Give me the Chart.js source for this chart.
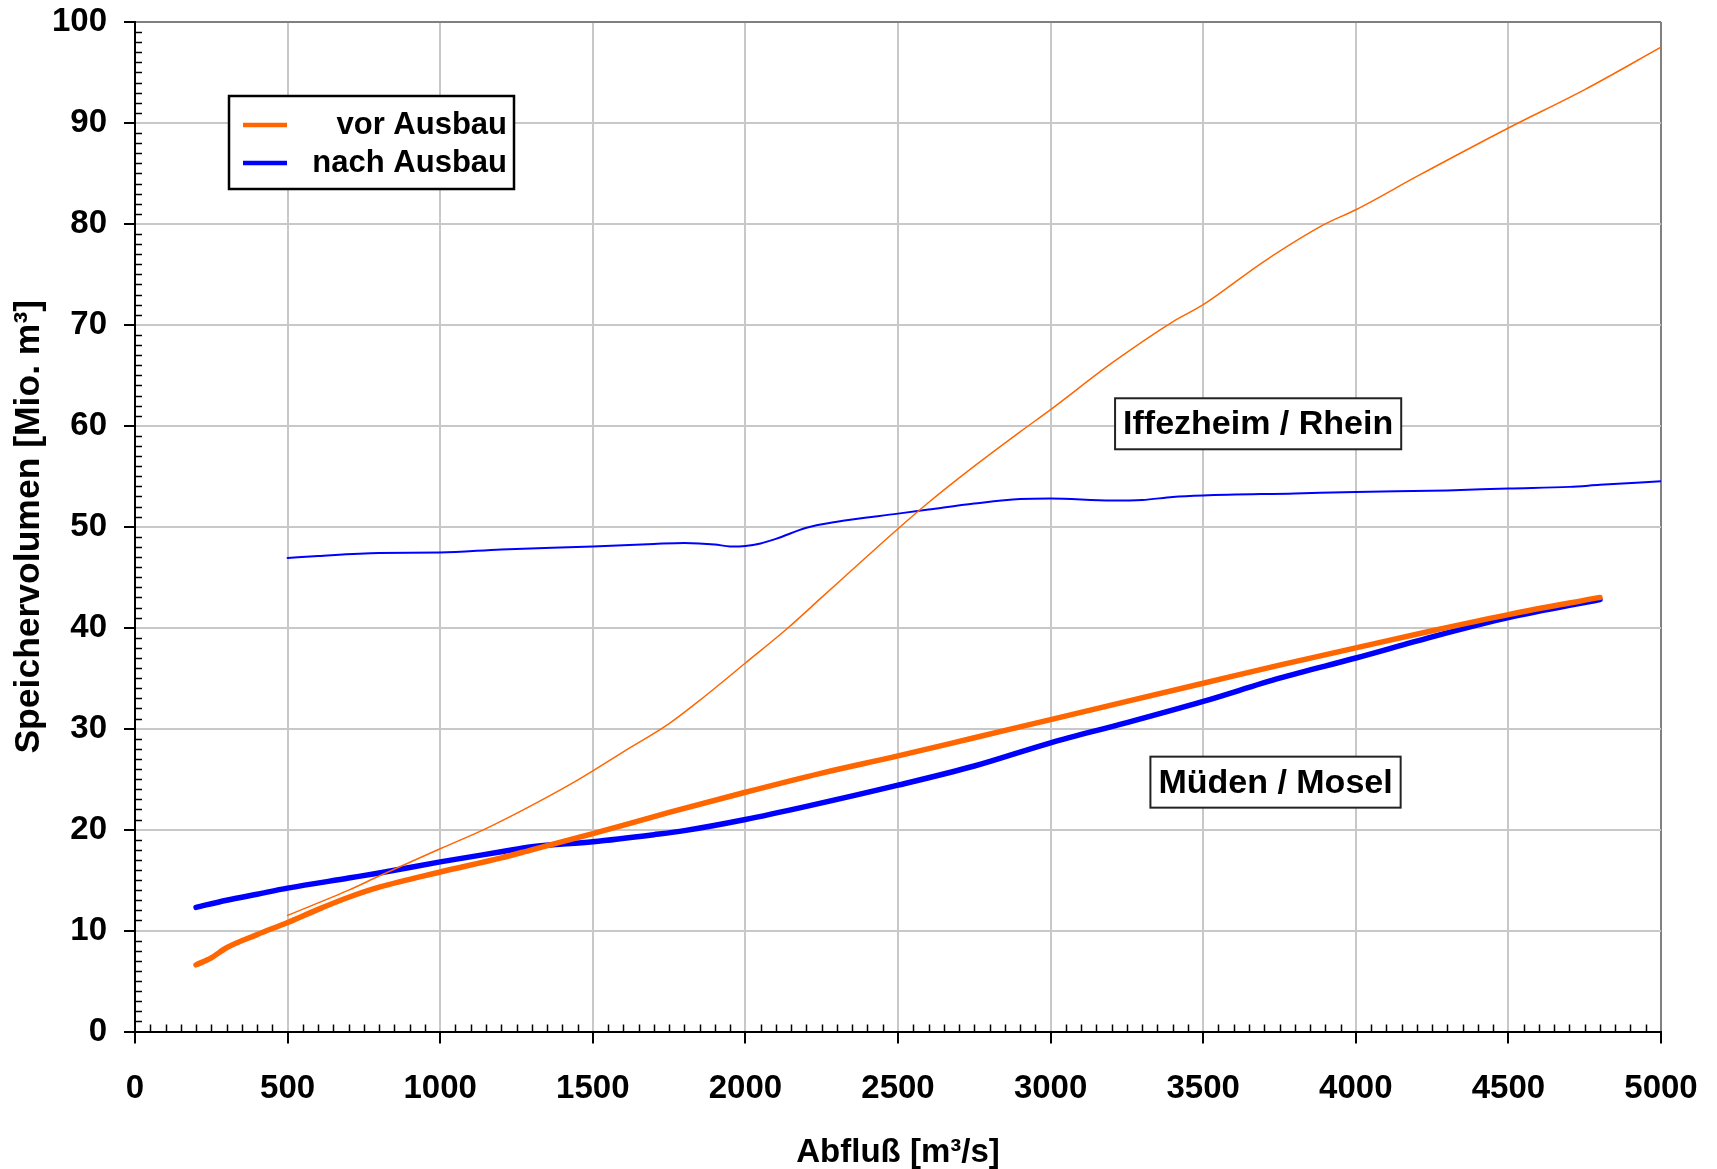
<!DOCTYPE html>
<html>
<head>
<meta charset="utf-8">
<script src="https://cdn.jsdelivr.net/npm/chart.js@4.4.1/dist/chart.umd.min.js"></script>
<style>
  html, body { margin: 0; padding: 0; background: #ffffff; }
  #wrap { width: 1717px; height: 1169px; }
</style>
</head>
<body>
<div id="wrap"><canvas id="c" width="1717" height="1169"></canvas></div>
<script>
// ---------- data ----------
const xTitle = 'Abfluß [m³/s]';
const yTitle = 'Speichervolumen [Mio. m³]';
const legendLabels = ['vor Ausbau', 'nach Ausbau'];

// Müden / Mosel, vor Ausbau (thick orange)
const muedenVorX = [200, 250, 300, 400, 500, 600, 700, 800, 1000, 1200, 1300, 1500, 1750, 2000, 2250, 2500, 2750, 3000, 3250, 3500, 3750, 4000, 4250, 4500, 4800];
const muedenVorY = [6.6, 7.3, 8.3, 9.6, 10.8, 12.1, 13.3, 14.3, 15.8, 17.2, 18.0, 19.6, 21.7, 23.7, 25.6, 27.3, 29.1, 30.9, 32.7, 34.5, 36.3, 38.0, 39.7, 41.3, 43.0];

// Müden / Mosel, nach Ausbau (thick blue)
const muedenNachX = [200, 300, 400, 500, 700, 800, 1000, 1200, 1300, 1500, 1700, 1800, 2000, 2200, 2500, 2750, 3000, 3250, 3500, 3750, 4000, 4250, 4500, 4800];
const muedenNachY = [12.3, 13.0, 13.6, 14.2, 15.2, 15.7, 16.8, 17.8, 18.3, 18.8, 19.5, 19.9, 21.0, 22.3, 24.4, 26.3, 28.6, 30.6, 32.7, 35.0, 37.0, 39.1, 41.0, 42.8];

// Iffezheim / Rhein, vor Ausbau (thin orange)
const iffVorX = [500, 700, 800, 1000, 1150, 1300, 1450, 1600, 1750, 1850, 2000, 2140, 2250, 2400, 2500, 2600, 2750, 2900, 3000, 3200, 3400, 3500, 3700, 3900, 4000, 4200, 4500, 4750, 5000];
const iffVorY = [11.5, 14.0, 15.4, 18.1, 20.1, 22.4, 24.9, 27.7, 30.5, 32.8, 36.5, 40.0, 43.0, 47.1, 49.8, 52.4, 56.0, 59.4, 61.6, 66.2, 70.3, 72.0, 76.3, 80.0, 81.4, 84.7, 89.5, 93.3, 97.5];

// Iffezheim / Rhein, nach Ausbau (thin blue)
const iffNachX = [500, 600, 800, 1000, 1200, 1500, 1700, 1800, 1900, 1950, 2000, 2050, 2100, 2200, 2300, 2500, 2600, 2750, 2900, 3000, 3200, 3300, 3400, 3500, 3800, 4000, 4300, 4500, 4700, 4800, 5000];
const iffNachY = [46.9, 47.1, 47.4, 47.45, 47.75, 48.05, 48.3, 48.4, 48.25, 48.05, 48.1, 48.35, 48.8, 49.9, 50.5, 51.3, 51.7, 52.3, 52.75, 52.8, 52.6, 52.65, 52.95, 53.1, 53.3, 53.45, 53.6, 53.8, 53.95, 54.15, 54.5];

// station labels: text and anchor in data coordinates
const stationLabels = ['Iffezheim / Rhein', 'Müden / Mosel'];
const stationLabelX = [3680, 3737];
const stationLabelY = [60.2, 24.7];

// ---------- styling ----------
const ORANGE = '#FF6600';
const BLUE = '#0000FF';
const FONT = "'Liberation Sans', Arial, sans-serif";

function pts(xs, ys) { return xs.map((x, i) => ({ x: x, y: ys[i] })); }

const datasets = [
  { label: 'Iffezheim vor Ausbau', data: pts(iffVorX, iffVorY), borderColor: ORANGE, borderWidth: 1.5 },
  { label: 'Iffezheim nach Ausbau', data: pts(iffNachX, iffNachY), borderColor: BLUE, borderWidth: 2 },
  { label: 'Müden vor Ausbau', data: pts(muedenVorX, muedenVorY), borderColor: ORANGE, borderWidth: 5.5 },
  { label: 'Müden nach Ausbau', data: pts(muedenNachX, muedenNachY), borderColor: BLUE, borderWidth: 5.5 }
].map(d => Object.assign(d, {
  showLine: true, pointRadius: 0, pointHoverRadius: 0, fill: false,
  cubicInterpolationMode: 'monotone', borderCapStyle: 'round', borderJoinStyle: 'round'
}));

// minor ticks + legend + station labels
const extras = {
  id: 'extras',
  afterDraw(chart) {
    const ctx = chart.ctx;
    const xs = chart.scales.x, ys = chart.scales.y;
    const ca = chart.chartArea;
    ctx.save();
    // minor ticks
    ctx.strokeStyle = '#000';
    ctx.lineWidth = 1.5;
    ctx.beginPath();
    for (let v = 1; v < 100; v++) {
      if (v % 10 === 0) continue;
      const py = Math.round(ys.getPixelForValue(v)) + 0.5;
      ctx.moveTo(ca.left, py); ctx.lineTo(ca.left + 7, py);
    }
    for (let v = 50; v < 5000; v += 50) {
      if (v % 500 === 0) continue;
      const px = Math.round(xs.getPixelForValue(v)) + 0.5;
      ctx.moveTo(px, ca.bottom); ctx.lineTo(px, ca.bottom - 7);
    }
    ctx.stroke();

    // legend box
    const lx = 229, ly = 96, lw = 285, lh = 93;
    ctx.fillStyle = '#fff';
    ctx.fillRect(lx, ly, lw, lh);
    ctx.lineWidth = 2.5;
    ctx.strokeStyle = '#000';
    ctx.strokeRect(lx, ly, lw, lh);
    const rows = [{ c: ORANGE, y: 125 }, { c: BLUE, y: 163 }];
    ctx.font = 'bold 31px ' + FONT;
    ctx.textAlign = 'right';
    ctx.textBaseline = 'middle';
    rows.forEach((r, i) => {
      ctx.strokeStyle = r.c;
      ctx.lineWidth = 4.5;
      ctx.beginPath();
      ctx.moveTo(243, r.y); ctx.lineTo(287, r.y);
      ctx.stroke();
      ctx.fillStyle = '#000';
      ctx.fillText(legendLabels[i], 507, r.y);
    });

    // station labels
    ctx.font = 'bold 34px ' + FONT;
    ctx.textAlign = 'center';
    stationLabels.forEach((t, i) => {
      const cx = xs.getPixelForValue(stationLabelX[i]);
      const cy = ys.getPixelForValue(stationLabelY[i]);
      const w = ctx.measureText(t).width + 16;
      const h = 51;
      ctx.fillStyle = '#fff';
      ctx.fillRect(cx - w / 2, cy - h / 2, w, h);
      ctx.strokeStyle = '#222';
      ctx.lineWidth = 2;
      ctx.strokeRect(cx - w / 2, cy - h / 2, w, h);
      ctx.fillStyle = '#000';
      ctx.fillText(t, cx, cy + 1);
    });
    ctx.restore();
  }
};

new Chart(document.getElementById('c'), {
  type: 'scatter',
  data: { datasets: datasets },
  options: {
    responsive: false,
    animation: false,
    events: [],
    layout: { padding: { top: 22, right: 56, left: 0, bottom: 0 } },
    plugins: { legend: { display: false }, tooltip: { enabled: false } },
    scales: {
      x: {
        type: 'linear', min: 0, max: 5000,
        ticks: { stepSize: 500, color: '#000', font: { family: FONT, size: 33, weight: 'bold' }, padding: 26, maxRotation: 0, autoSkip: false,
                 callback: v => String(v) },
        grid: {
          color: c => (c.tick && c.tick.value === 5000) ? '#808080' : '#c8c8c8',
          lineWidth: 2, tickLength: 12, tickColor: '#000', tickWidth: 2
        },
        border: { color: '#000', width: 2 },
        title: { display: true, text: xTitle, color: '#000', font: { family: FONT, size: 33, weight: 'bold', lineHeight: 0.95 }, padding: { top: 0, bottom: 0 } },
        afterFit(s) { s.height = 137.5; s.paddingLeft = 0; s.paddingRight = 0; }
      },
      y: {
        type: 'linear', min: 0, max: 100,
        ticks: { stepSize: 10, color: '#000', font: { family: FONT, size: 33, weight: 'bold' }, padding: 17, autoSkip: false,
                 callback: v => String(v) },
        grid: {
          color: c => (c.tick && c.tick.value === 100) ? '#808080' : '#c8c8c8',
          lineWidth: 2, tickLength: 11, tickColor: '#000', tickWidth: 2
        },
        border: { color: '#000', width: 2 },
        title: { display: true, text: yTitle, color: '#000', font: { family: FONT, size: 35.5, weight: 'bold' }, padding: { top: 8, bottom: 0 } },
        afterFit(s) { s.width = 135; s.paddingTop = 0; s.paddingBottom = 0; }
      }
    }
  },
  plugins: [extras]
});
</script>
</body>
</html>
